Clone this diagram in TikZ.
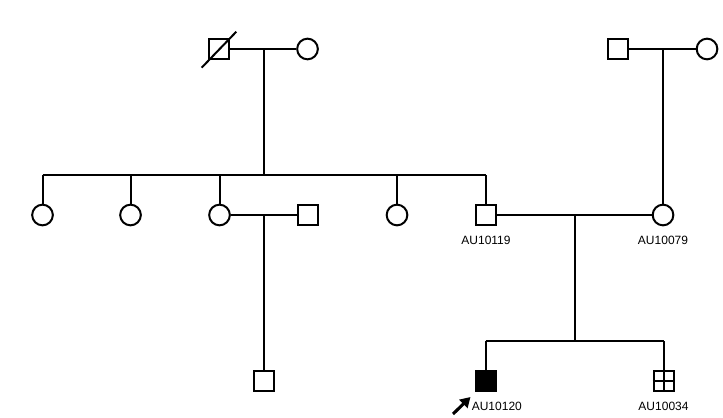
\documentclass[tikz,border=0pt]{standalone}
\usepackage{fontspec}
\newfontfamily\idfont{Liberation Sans}
\usetikzlibrary{positioning,arrows.meta}
\begin{document}
\begin{tikzpicture}
    [
        x = 0.75pt, y = -0.75pt,
        line width = 1.5pt,
        male/.style = {draw, rectangle, minimum size = 15pt, inner sep = 0pt},
        female/.style = {draw, circle, minimum size = 15.5pt, inner sep = 0pt},
        affected/.style = {fill = black},
        idlabel/.style = {font = \idfont\fontsize{9}{10}\selectfont, inner sep = 0pt},
        proband/.style = {line width = 2.3pt, -{Triangle[length = 7.5pt, width = 8.5pt]}}
    ]
        \useasboundingbox (0,0) rectangle (723,417);
        \node [male] (gf1) at (219,49) {};
        \node [female] (gm1) at (307.5,49) {};
        \node [male] (gf2) at (618,49) {};
        \node [female] (gm2) at (707,49) {};
        \node [female] (a1) at (42.5,215) {};
        \node [female] (a2) at (130.5,215) {};
        \node [female] (a3) at (219.5,215) {};
        \node [male] (h3) at (308,215) {};
        \node [female] (a4) at (397,215) {};
        \node [male] (a5) at (486,215) {};
        \node [female] (mo) at (663,215) {};
        \node [male] (k1) at (263.5,380.5) {};
        \node [male, affected] (pb) at (485.5,380.5) {};
        \node [male] (sb) at (663.5,380.5) {};
        \node [idlabel, below = 6.8pt of a5] (l1) {AU10119};
        \node [idlabel, below = 6.8pt of mo] (l2) {AU10079};
        \node [idlabel, below = 7.1pt of pb, xshift = 8.5pt] (l3) {AU10120};
        \node [idlabel, below = 7.1pt of sb] (l4) {AU10034};
        \coordinate (m1) at (263.5,49);
        \coordinate (s1) at (263.5,175);
        \coordinate (m2) at (mo |- gf2);
        \coordinate (m3) at (263.5,215);
        \coordinate (m4) at (574.5,215);
        \coordinate (s2) at (574.5,341);
        \coordinate (pt) at (453,414);
        \coordinate (ph) at (470.5,397);
        \draw ([shift = {(-13pt,-14pt)}]gf1.center) -- ([shift = {(13pt,13pt)}]gf1.center);
        \draw (gf1) -- (gm1);
        \draw (gf2) -- (gm2);
        \draw (m1) -- (s1);
        \draw (a1 |- s1) -- (a5 |- s1);
        \foreach \c in {a1,a2,a3,a4,a5}
            \draw (\c) -- (\c |- s1);
        \draw (m2) -- (mo);
        \draw (a3) -- (h3);
        \draw (m3) -- (k1);
        \draw (a5) -- (mo);
        \draw (m4) -- (s2);
        \draw (pb |- s2) -- (sb |- s2);
        \draw (pb) -- (pb |- s2);
        \draw (sb) -- (sb |- s2);
        \draw (sb.north) -- (sb.south) (sb.west) -- (sb.east);
        \draw [proband] (pt) -- (ph);
\end{tikzpicture}
\end{document}
